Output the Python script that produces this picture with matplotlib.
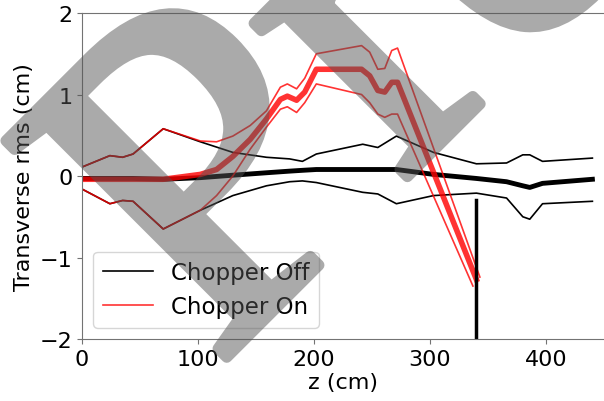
import numpy as np
import matplotlib
matplotlib.use("Agg")
import matplotlib.pyplot as plt
import matplotlib.patheffects as pe

# chopper off: beam centroid and +/- rms envelope
z_off = [0, 24, 35, 44, 70, 102, 130, 159, 179, 190, 202, 242, 255, 271, 303, 340, 366, 380, 386, 397, 440]
off_mean = [-0.03, -0.03, -0.03, -0.03, -0.04, -0.02, 0.01, 0.04, 0.06, 0.07, 0.08, 0.08, 0.08, 0.08, 0.02, -0.03, -0.07, -0.12, -0.14, -0.09, -0.04]
off_upper = [0.11, 0.25, 0.23, 0.27, 0.58, 0.42, 0.29, 0.23, 0.21, 0.18, 0.27, 0.39, 0.35, 0.49, 0.29, 0.15, 0.16, 0.26, 0.26, 0.18, 0.22]
off_lower = [-0.16, -0.34, -0.30, -0.31, -0.65, -0.42, -0.24, -0.12, -0.07, -0.06, -0.08, -0.20, -0.22, -0.34, -0.24, -0.21, -0.27, -0.50, -0.53, -0.34, -0.31]

# chopper on
z_on = [0, 24, 35, 44, 70, 102, 116, 130, 145, 159, 171, 177, 185, 192, 202, 241, 248, 255, 261, 267, 272]
on_mean = [-0.04, -0.04, -0.04, -0.04, -0.04, 0.02, 0.08, 0.24, 0.45, 0.70, 0.94, 0.98, 0.93, 1.03, 1.31, 1.31, 1.23, 1.05, 1.03, 1.15, 1.15]
on_upper = [0.11, 0.25, 0.23, 0.27, 0.58, 0.43, 0.42, 0.49, 0.62, 0.80, 1.09, 1.13, 1.07, 1.20, 1.50, 1.60, 1.52, 1.31, 1.32, 1.54, 1.57]
on_lower = [-0.16, -0.34, -0.30, -0.31, -0.65, -0.42, -0.24, 0.0, 0.33, 0.60, 0.82, 0.85, 0.78, 0.90, 1.13, 1.00, 0.90, 0.76, 0.72, 0.76, 0.76]
# last points (lower, mean, upper) where the deflected beam hits the stop
on_end_z = [337, 340, 343]
on_end_val = [-1.35, -1.27, -1.24]

stop_z = 340
stop_top = -0.3

fig = plt.figure(figsize=(6.04, 4.02), dpi=100)
ax = fig.add_axes([0.1358, 0.1542, 0.8642, 0.8109])

ax.plot(z_off, off_mean, color="black", lw=3.5)
ax.plot(z_off, off_upper, color="black", lw=1.2, label="Chopper Off")
ax.plot(z_off, off_lower, color="black", lw=1.2)

ax.plot(z_on + [on_end_z[1]], on_mean + [on_end_val[1]], color="red", lw=4, alpha=0.8)
ax.plot(z_on + [on_end_z[2]], on_upper + [on_end_val[2]], color="red", lw=1.2, alpha=0.8, label="Chopper On")
ax.plot(z_on + [on_end_z[0]], on_lower + [on_end_val[0]], color="red", lw=1.2, alpha=0.8)

ax.plot([stop_z, stop_z], [-2, stop_top], color="black", lw=2.5)

ax.set_xlim(0, 450)
ax.set_ylim(-2, 2)
ax.set_xticks([0, 100, 200, 300, 400])
ax.set_yticks([-2, -1, 0, 1, 2])
ax.tick_params(labelsize=16, color="0.45")
ax.spines["right"].set_visible(False)
for s in ["left", "top", "bottom"]:
    ax.spines[s].set_color("0.45")
ax.set_xlabel("z (cm)", fontsize=16, labelpad=2)
ax.set_ylabel("Transverse rms (cm)", fontsize=16)
ax.legend(loc="lower left", fontsize=16.5, handlelength=2.2)


def half_alpha(im, dpi):
    # watermark is drawn opaque (fill + outline), then made see-through in one go
    out = im.copy()
    out[..., :3] = 0.33
    out[..., 3] *= 0.5
    return out, 0, 0


# watermark over the plot
wm = fig.text(0.356, 0.0796, "Preprint", fontsize=340, family="Liberation Serif",
              rotation=45, rotation_mode="anchor", ha="left", va="baseline",
              color="0.33", zorder=10,
              path_effects=[pe.withStroke(linewidth=8, foreground="0.33")])
wm.set_agg_filter(half_alpha)

fig.savefig("out.png", dpi=100)
